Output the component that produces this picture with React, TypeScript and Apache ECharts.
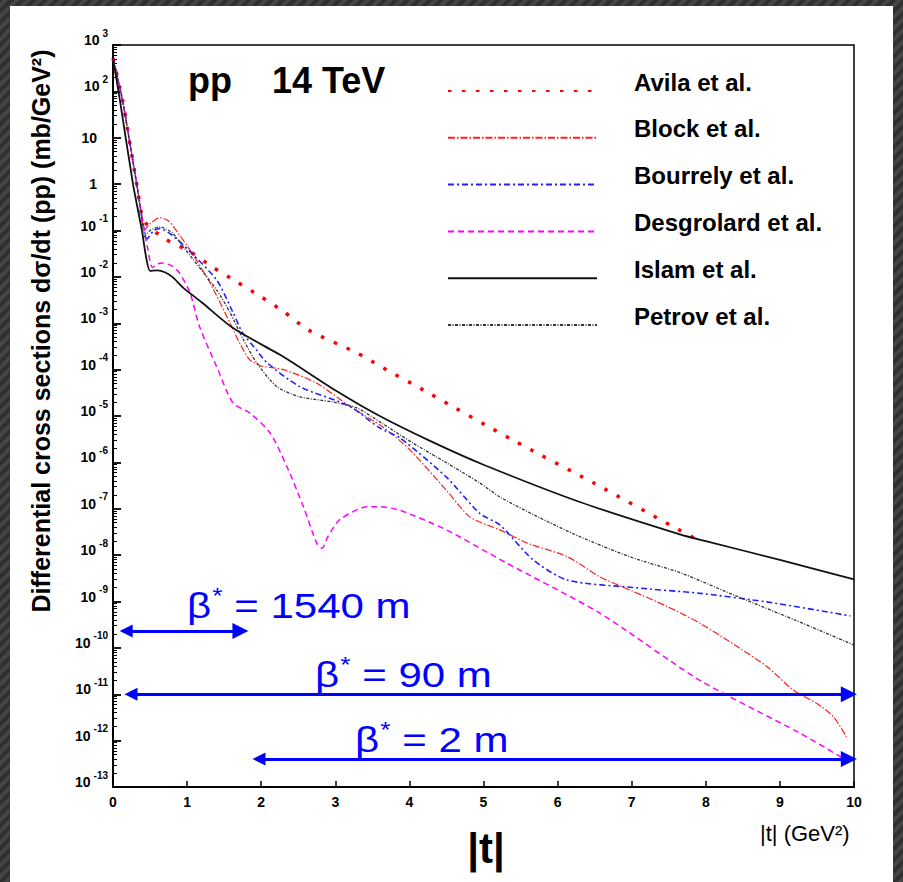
import React, { useEffect, useRef } from 'react';
import * as echarts from 'echarts';

const FONT = '"Liberation Sans", Arial, Helvetica, sans-serif';

const seriesNames = ['Avila et al.', 'Block et al.', 'Bourrely et al.', 'Desgrolard et al.', 'Islam et al.', 'Petrov et al.'];

// |t| (GeV^2) and dσ/dt (mb/GeV^2)
const avilaT = [0, 0.13, 0.2, 0.32, 0.38, 0.43, 0.7, 1.04, 1.35, 1.67, 2.0, 2.3, 2.64, 3.29, 3.6, 4.25, 5.4, 6.5, 7.56, 7.9];
const avilaV = [520, 63, 14, 1.0, 0.25, 0.15, 0.066, 0.035, 0.016, 7.8e-3, 3.7e-3, 1.8e-3, 7.1e-4, 2.3e-4, 1.2e-4, 3.2e-5, 3.0e-6, 3.5e-7, 4.1e-8, 2.1e-8];

const blockT = [0, 0.13, 0.2, 0.32, 0.38, 0.42, 0.5, 0.63, 0.75, 0.9, 1.04, 1.31, 1.58, 1.71, 1.85, 2.0, 2.3, 2.75, 3.2, 3.64, 4.0, 4.5, 4.82, 5.22, 5.6, 6.13, 6.57, 7.0, 7.48, 7.92, 8.46, 8.83, 9.18, 9.5, 9.72, 9.9];
const blockV = [520, 63, 14, 1.0, 0.22, 0.10, 0.14, 0.19, 0.16, 0.079, 0.038, 7.4e-3, 1.0e-3, 3.7e-4, 1.6e-4, 1.2e-4, 1.0e-4, 5.1e-5, 1.6e-5, 5.8e-6, 1.9e-6, 2.5e-7, 6.6e-8, 3.5e-8, 1.8e-8, 9.3e-9, 3.4e-9, 1.7e-9, 7.8e-10, 3.4e-10, 9.8e-11, 3.9e-11, 1.23e-11, 6.3e-12, 3.3e-12, 1.2e-12];

const bourrelyT = [0, 0.13, 0.2, 0.32, 0.4, 0.46, 0.55, 0.63, 0.8, 1.04, 1.4, 1.62, 1.75, 1.94, 2.08, 2.52, 3.2, 3.6, 3.87, 4.5, 4.95, 5.22, 5.67, 6.13, 7.02, 7.92, 8.82, 9.95];
const bourrelyV = [520, 63, 14, 1.0, 0.16, 0.066, 0.10, 0.11, 0.079, 0.035, 8.5e-3, 1.7e-3, 6.2e-4, 2.6e-4, 1.4e-4, 4.3e-5, 1.6e-5, 5.5e-6, 3.4e-6, 4.8e-7, 7.9e-8, 4.5e-8, 7.9e-9, 2.9e-9, 2.0e-9, 1.5e-9, 9.8e-10, 4.9e-10];

const desgrolardT = [0, 0.13, 0.2, 0.32, 0.38, 0.42, 0.47, 0.53, 0.6, 0.67, 0.8, 0.9, 1.04, 1.17, 1.4, 1.62, 1.85, 2.12, 2.35, 2.57, 2.75, 2.82, 2.9, 3.06, 3.43, 3.6, 3.87, 4.5, 5.3, 6.57, 7.92, 9.27, 9.85];
const desgrolardV = [520, 63, 14, 1.0, 0.25, 0.10, 0.04, 0.016, 0.019, 0.02, 0.017, 0.012, 4.5e-3, 8.3e-4, 1.15e-4, 1.9e-5, 1.15e-5, 4.3e-6, 7.9e-7, 1.1e-7, 1.8e-8, 1.4e-8, 2.5e-8, 5.8e-8, 1.1e-7, 1.1e-7, 9.3e-8, 3.5e-8, 6.9e-9, 5.6e-10, 2.0e-11, 1.45e-12, 4.2e-13];

const islamT = [0, 0.094, 0.27, 0.39, 0.45, 0.5, 0.6, 0.7, 0.8, 0.95, 1.2, 1.6, 2.0, 2.3, 3.0, 3.6, 4.3, 5.0, 6.3, 7.65, 8.0, 9.0, 10];
const islamV = [520, 63, 1.0, 0.1, 0.025, 0.0135, 0.0138, 0.0126, 0.010, 5.8e-3, 2.8e-3, 8.3e-4, 3.5e-4, 1.9e-4, 3.6e-5, 1.0e-5, 2.8e-6, 8.9e-7, 1.4e-7, 2.8e-8, 2.0e-8, 7.9e-9, 3.0e-9];

const petrovT = [0, 0.13, 0.2, 0.32, 0.38, 0.42, 0.5, 0.63, 0.8, 0.95, 1.4, 1.58, 1.76, 1.94, 2.21, 2.52, 2.97, 3.29, 3.64, 4.05, 4.5, 4.95, 5.22, 5.7, 6.3, 7.0, 7.65, 8.37, 9.2, 10];
const petrovV = [520, 63, 14, 1.0, 0.25, 0.072, 0.10, 0.12, 0.089, 0.044, 5.2e-3, 1.7e-3, 4.4e-4, 1.4e-4, 4.3e-5, 2.6e-5, 2.0e-5, 1.5e-5, 6.8e-6, 2.6e-6, 9.8e-7, 3.6e-7, 1.8e-7, 7.1e-8, 2.5e-8, 8.9e-9, 4.2e-9, 1.4e-9, 4.0e-10, 1.15e-10];

// beta* acceptance arrows: label, level (mb/GeV^2), |t| from, |t| to (shaft ends; heads extend beyond)
const arrowLabels = ['1540', '90', '2'];
const arrowLevel = [2.3e-10, 1.0e-11, 4.0e-13];
const arrowFrom = [0.178, 0.243, 1.97];
const arrowTo = [1.72, 9.93, 9.93];

const xTicks = [0, 1, 2, 3, 4, 5, 6, 7, 8, 9, 10];

const pairs = (ts: number[], vs: number[]) => ts.map((t, i) => [t, vs[i]]);

const seriesData = [
  pairs(avilaT, avilaV),
  pairs(blockT, blockV),
  pairs(bourrelyT, bourrelyV),
  pairs(desgrolardT, desgrolardV),
  pairs(islamT, islamV),
  pairs(petrovT, petrovV),
];

const lineStyles: any[] = [
  { color: '#ff0000', width: 3.5, type: [3.5, 10.5] },
  { color: '#ff2020', width: 1.2, type: [7, 2, 1.5, 2] },
  { color: '#2020ff', width: 1.6, type: [6, 3, 2, 3] },
  { color: '#ff00ff', width: 1.5, type: [6, 4] },
  { color: '#111111', width: 1.8, type: 'solid' },
  { color: '#333333', width: 1.3, type: [3, 1.5, 1, 1.5] },
];

const betaRich = {
  b: { fontSize: 35, lineHeight: 36, fontFamily: FONT },
  s: { fontSize: 22, lineHeight: 20, padding: [0, 0, 22, 1], fontFamily: FONT },
  n: { fontSize: 35, lineHeight: 36, fontFamily: FONT },
};
const betaX = [187, 315, 355];
const betaY = [606, 675, 740];

function buildOption(): any {
  const series: any[] = seriesNames.map((name, i) => ({
    name,
    type: 'line',
    data: seriesData[i],
    showSymbol: false,
    symbol: 'none',
    smooth: 0.25,
    lineStyle: lineStyles[i],
    itemStyle: { color: lineStyles[i].color },
    z: 3,
  }));
  series.push({
    name: 'beta',
    type: 'lines',
    coordinateSystem: 'cartesian2d',
    clip: false,
    silent: true,
    symbol: ['triangle', 'triangle'],
    symbolSize: [13, 16],
    lineStyle: { color: '#0000ff', width: 3, opacity: 1 },
    data: arrowLabels.map((lab, i) => ({
      name: lab,
      coords: [[arrowFrom[i], arrowLevel[i]], [arrowTo[i], arrowLevel[i]]],
    })),
    z: 4,
  });

  const graphic: any[] = [
    { type: 'rect', z: -10, shape: { x: 10, y: 6, width: 883, height: 876 }, style: { fill: '#ffffff' } },
    {
      type: 'text', x: 41, y: 331, rotation: Math.PI / 2,
      style: { text: 'Differential cross sections d\u03c3/dt (pp) (mb/GeV\u00b2)', font: `bold 25px ${FONT}`, fill: '#000', align: 'center', verticalAlign: 'middle' },
    },
    {
      type: 'text', x: 188, y: 80,
      style: { text: 'pp    14 TeV', font: `bold 36px ${FONT}`, fill: '#000', align: 'left', verticalAlign: 'middle' },
    },
    {
      type: 'text', x: 760, y: 833,
      style: { text: '|t| (GeV\u00b2)', font: `22px ${FONT}`, fill: '#000', align: 'left', verticalAlign: 'middle' },
    },
    {
      type: 'text', x: 486, y: 848,
      style: { text: '|t|', font: `bold 42px ${FONT}`, fill: '#000', align: 'center', verticalAlign: 'middle' },
    },
  ];
  arrowLabels.forEach((lab, i) => {
    graphic.push({
      type: 'text', x: betaX[i], y: betaY[i], scaleX: 1.2, z: 5,
      style: { text: `{b|\u03b2}{s|*}{n| = ${lab} m}`, rich: betaRich, fill: '#0000ff', align: 'left', verticalAlign: 'middle' },
    });
  });

  return {
    animation: false,
    backgroundColor: 'transparent',
    grid: { left: 113, top: 45, right: 49, bottom: 95, show: true, borderColor: '#000', borderWidth: 1.5, backgroundColor: 'transparent' },
    legend: {
      orient: 'vertical', left: 447, top: 70, padding: 0,
      itemWidth: 149, itemHeight: 10, itemGap: 4.8,
      data: seriesNames, selectedMode: false,
      itemStyle: { opacity: 0 },
      formatter: (name: string) => `{a|${name}}`,
      textStyle: {
        fontSize: 24, fontWeight: 'bold', fontFamily: FONT, color: '#000',
        rich: { a: { fontSize: 24, fontWeight: 'bold', fontFamily: FONT, color: '#000', lineHeight: 26, padding: [0, 0, 18, 32] } },
      },
    },
    xAxis: {
      type: 'value', min: xTicks[0], max: xTicks[xTicks.length - 1], interval: 1,
      axisLine: { show: true, lineStyle: { color: '#000', width: 2 } },
      axisTick: { show: true, inside: true, length: 6, lineStyle: { color: '#000', width: 1.5 } },
      axisLabel: { fontSize: 14, fontWeight: 'bold', fontFamily: FONT, color: '#000', margin: 8 },
      splitLine: { show: false },
    },
    yAxis: {
      type: 'log', logBase: 10, min: 1e-13, max: 1e3, interval: 1,
      axisLine: { show: true, lineStyle: { color: '#000', width: 2 } },
      axisTick: { show: true, inside: true, length: 8, lineStyle: { color: '#000', width: 1.8 } },
      minorTick: { show: true, splitNumber: 9, length: 4, lineStyle: { color: '#000', width: 1 } },
      splitLine: { show: false },
      minorSplitLine: { show: false },
      axisLabel: {
        margin: 5, interval: 0, showMinLabel: true, showMaxLabel: true,
        formatter: (v: number) => {
          const e = Math.round(Math.log10(v));
          if (e === 1) return '{p|10}';
          if (e === 0) return '{p|1}';
          return `{b|10}{s|${e}}`;
        },
        rich: {
          b: { fontSize: 14, fontWeight: 'bold', lineHeight: 14, padding: [0, 0, 10, 0], color: '#000', fontFamily: FONT },
          s: { fontSize: 10, fontWeight: 'bold', lineHeight: 10, padding: [0, 0, 24, 3], color: '#000', fontFamily: FONT },
          p: { fontSize: 14, fontWeight: 'bold', lineHeight: 14, padding: [0, 11, 0, 0], color: '#000', fontFamily: FONT },
        },
      },
    },
    graphic,
    series,
  };
}

export default function App() {
  const ref = useRef<HTMLDivElement>(null);
  useEffect(() => {
    if (!ref.current) return;
    const chart = echarts.init(ref.current, null, { renderer: 'svg' });
    chart.setOption(buildOption());
    return () => chart.dispose();
  }, []);
  return (
    <div
      style={{
        position: 'fixed', left: 0, top: 0, width: 903, height: 882, overflow: 'hidden',
        background: 'repeating-linear-gradient(135deg, #2a2a2a 0px, #4a4a4a 4px, #2a2a2a 8px)',
      }}
    >
      <div ref={ref} style={{ width: 903, height: 882 }} />
    </div>
  );
}
